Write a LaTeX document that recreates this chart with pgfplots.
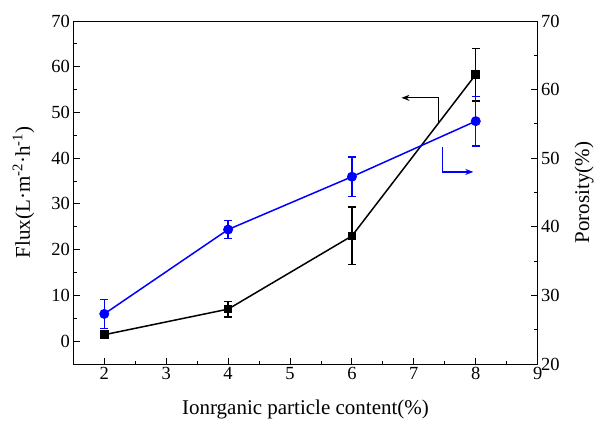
\documentclass[border=0pt]{standalone}
\usepackage{pgfplots}
\pgfplotsset{compat=1.18}
\usepackage{pgfplotstable}
\usepackage{fontspec}
\setmainfont{Liberation Serif}
\usetikzlibrary{arrows.meta}

\pgfplotstableread{
x y e
2 1.4 0.5
4 7.0 1.7
6 23.0 6.3
8 58.3 5.75
}\flux
\pgfplotstableread{
x y e
2 27.3 2.1
4 39.6 1.3
6 47.3 2.9
8 55.4 3.6
}\poro

\begin{document}
\begin{tikzpicture}
\useasboundingbox (-73.3pt,-67pt) rectangle (525.7pt,364pt);
\pgfplotsset{
  every axis/.append style={
    scale only axis, width=464.4pt, height=343pt,
    xmin=1.5, xmax=9,
    /pgf/number format/assume math mode=true,
    tick label style={font=\fontsize{18.5}{20}\selectfont},
    label style={font=\fontsize{21}{24}\selectfont},
    major tick length=6.5pt, minor tick length=3.5pt,
    tick style={black, line width=0.9pt},
    axis line style={line width=1pt},
    tick align=inside,
  }
}
\begin{axis}[
  ymin=-5, ymax=70,
  xtick={2,3,...,9}, minor x tick num=1,
  ytick={0,10,...,70}, minor y tick num=1,
  xtick pos=lower, ytick pos=left,
  xlabel={Ionrganic particle content(\%)},
  ylabel={Flux(L·m\textsuperscript{-2}·h\textsuperscript{-1})},
  xlabel style={yshift=-13pt},
  ylabel style={yshift=10pt},
  clip=false,
]
\addplot[black, line width=1.5pt, mark=square*, mark size=3.6pt,
  error bars/.cd, y dir=both, y explicit,
  error bar style={line width=1.4pt}, error mark options={rotate=90, mark size=4pt, line width=1.4pt}]
  table[x=x, y=y, y error=e] {\flux};
\draw[black, line width=1.3pt, -{Stealth[length=8pt,width=6pt]}] (axis cs:7.40,48.0) -- (axis cs:7.40,53.2) -- (axis cs:6.80,53.2);
\draw[blue, line width=1.3pt, -{Stealth[length=8pt,width=6pt]}] (axis cs:7.46,42.5) -- (axis cs:7.46,37.0) -- (axis cs:7.96,37.0);
\end{axis}
\begin{axis}[
  ymin=20, ymax=70,
  axis x line=none, axis y line*=right,
  ytick={20,30,...,70}, minor y tick num=1,
  ylabel={Porosity(\%)},
  ylabel style={yshift=-8pt},
]
\addplot[blue, line width=1.5pt, mark=*, mark size=4.2pt,
  error bars/.cd, y dir=both, y explicit,
  error bar style={line width=1.4pt}, error mark options={rotate=90, mark size=4pt, line width=1.4pt}]
  table[x=x, y=y, y error=e] {\poro};
\end{axis}
\end{tikzpicture}
\end{document}
